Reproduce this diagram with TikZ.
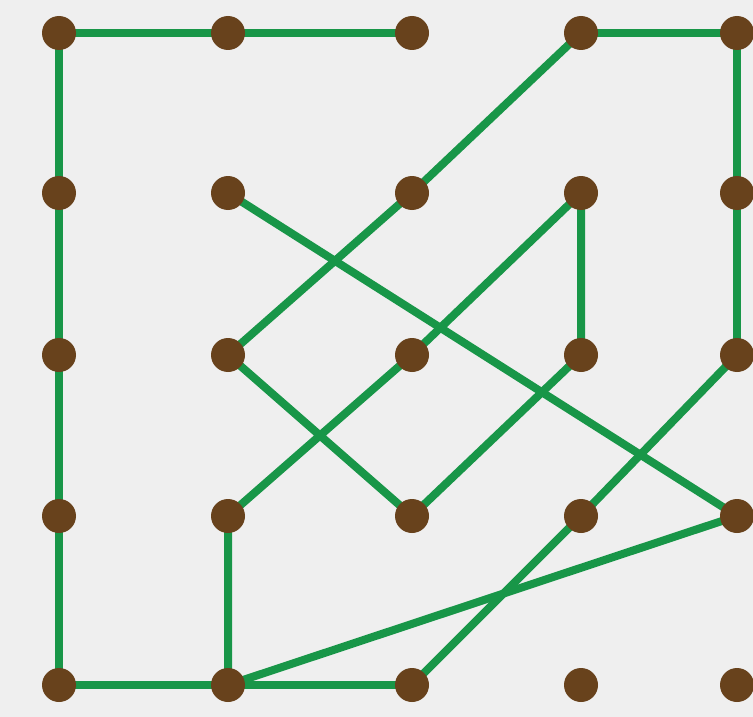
\documentclass[tikz,border=0pt]{standalone}
\definecolor{leaf}{RGB}{24,150,72}
\definecolor{bark}{RGB}{104,66,28}
\definecolor{paper}{RGB}{239,239,239}
\pgfdeclarelayer{bg}
\pgfdeclarelayer{wires}
\pgfsetlayers{bg,wires,main}

\begin{document}
\begin{tikzpicture}[x=1pt,y=-1pt,
  peg/.style={circle, fill=bark, minimum size=34pt, inner sep=0pt},
  link/.style={leaf, line width=8pt, line join=round}]

  \useasboundingbox (0,0) rectangle (753,717);
  \begin{pgfonlayer}{bg}
    \fill[paper] (0,0) rectangle (753,717);
  \end{pgfonlayer}

  % 5x5 pegboard, p<col><row>
  \foreach \x [count=\i from 0] in {59,228,412,581,737}
    \foreach \y [count=\j from 0] in {33,193,355,516,685}
      \node[peg] (p\i\j) at (\x,\y) {};

  % rubber bands under the pegs
  \begin{pgfonlayer}{wires}
    \draw[link] (p00.center) -- (p10.center) -- (p20.center);
    \draw[link] (p30.center) -- (p40.center) -- (p41.center) -- (p42.center);
    \draw[link] (p00.center) -- (p01.center) -- (p02.center) -- (p03.center)
                -- (p04.center) -- (p14.center) -- (p24.center);
    % zig-zag through the middle
    \draw[link] (p30.center) -- (p21.center) -- (p12.center) -- (p23.center)
                -- (p32.center) -- (p31.center) -- (p22.center) -- (p13.center)
                -- (p14.center);
    \draw[link] (p11.center) -- (p43.center) -- (p14.center);
    \draw[link] (p42.center) -- (p33.center) -- (p24.center);
  \end{pgfonlayer}
\end{tikzpicture}
\end{document}
